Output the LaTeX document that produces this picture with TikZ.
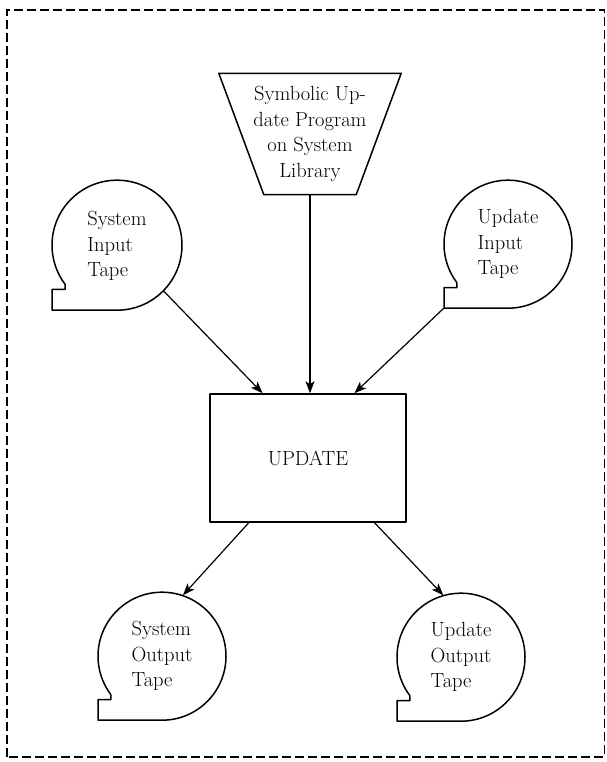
\documentclass[tikz,border=0pt]{standalone}
\usetikzlibrary{calc,arrows.meta}
\tikzset{
  lbl/.style={font=\fontsize{20.5}{25.5}\selectfont},
  tapenode/.style={circle, minimum size=128pt, inner sep=0pt, align=left, lbl},
  outline/.style={line width=1.5pt, line join=round},
  flow/.style={line width=1.2pt, -{Stealth[length=12pt,width=9pt,inset=3pt]}},
  frame/.style={line width=1.5pt, dash pattern=on 9pt off 4pt},
}
\newcommand\tapeoutline[2]{%
  \draw[outline] (#1.south) arc[start angle=-90, end angle=216.87, radius=#2pt]
    -- ++(0,-0.08*#2pt) -- ++(-0.2*#2pt,0) |- (#1.south) -- cycle;}
\begin{document}
\begin{tikzpicture}[x=1pt,y=1pt]
\useasboundingbox (0,0) rectangle (606,762);
\draw[frame] (7,5) rectangle (604.5,752);

% trapezoid (program on library)
\node[lbl, minimum width=182pt, minimum height=121pt, inner sep=0pt, align=center]
  (trap) at (310,628) {Symbolic Up-\\date Program\\on System\\Library};
\draw[outline] (trap.north west) -- (trap.north east)
  -- ($(trap.south east)+(-45pt,0)$) -- ($(trap.south west)+(45pt,0)$) -- cycle;

% processing box
\node[draw, outline, minimum width=196pt, minimum height=128pt, inner sep=0pt, lbl]
  (box) at (308,304) {UPDATE};

% tapes
\node[tapenode] (sit) at (117,516) {System\\Input\\Tape};
\tapeoutline{sit}{65}
\node[tapenode] (uit) at (508,518) {Update\\Input\\Tape};
\tapeoutline{uit}{64}
\node[tapenode] (sot) at (162,106) {System\\Output\\Tape};
\tapeoutline{sot}{64}
\node[tapenode] (uot) at (461,105) {Update\\Output\\Tape};
\tapeoutline{uot}{64}

% connectors
\draw[flow] (sit.-44) -- ($(box.north west)!0.27!(box.north east)$);
\draw[flow] (trap.south) -- (trap.south |- box.north);
\draw[flow] (uit.west |- uit.south) -- ($(box.north west)!0.735!(box.north east)$);
\draw[flow] ($(box.south west)!0.2!(box.south east)$) -- (sot.71.5);
\draw[flow] ($(box.south west)!0.837!(box.south east)$) -- (uot.106);
\end{tikzpicture}
\end{document}
